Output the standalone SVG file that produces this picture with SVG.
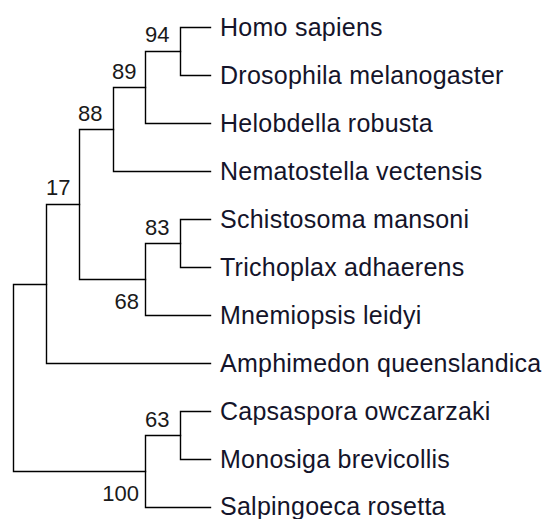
<svg xmlns="http://www.w3.org/2000/svg" width="547" height="519" viewBox="0 0 547 519">
<style>
.br{fill:none;stroke:#000;stroke-width:1.4;stroke-linecap:square}
.leaf{font-family:"Liberation Sans",Arial,sans-serif;font-size:25px;letter-spacing:0.25px;fill:#14142a}
.sup{font-family:"Liberation Sans",Arial,sans-serif;font-size:22px;fill:#1a1a1a}
.end{text-anchor:end}
</style>
<rect width="547" height="519" fill="#fff"/>
<g id="connectors">
<path class="br" d="M210.5,27.5H180.5V75.5H210.5"/>
<path class="br" d="M180.5,51.5H145.5V123.5H210.5"/>
<path class="br" d="M145.5,87.5H113.5V171.5H210.5"/>
<path class="br" d="M210.5,219.5H180.5V267.5H210.5"/>
<path class="br" d="M180.5,243.5H145.5V315.5H210.5"/>
<path class="br" d="M113.5,129.5H79.5V279.5H145.5"/>
<path class="br" d="M79.5,204.5H46.5V363.5H210.5"/>
<path class="br" d="M210.5,411.5H180.5V459.5H210.5"/>
<path class="br" d="M180.5,435.5H145.5V507.5H210.5"/>
<path class="br" d="M46.5,284.5H13.5V471.5H145.5"/>
</g>
<g id="supports">
<text class="sup" x="145" y="42">94</text>
<text class="sup" x="112" y="79">89</text>
<text class="sup" x="78" y="121">88</text>
<text class="sup" x="46" y="195">17</text>
<text class="sup" x="145" y="235">83</text>
<text class="sup end" x="139" y="309">68</text>
<text class="sup" x="145" y="427">63</text>
<text class="sup end" x="139" y="501">100</text>
</g>
<g id="n-homo"><text class="leaf" x="220" y="36">Homo sapiens</text></g>
<g id="n-drosophila"><text class="leaf" x="220" y="84">Drosophila melanogaster</text></g>
<g id="n-helobdella"><text class="leaf" x="220" y="132">Helobdella robusta</text></g>
<g id="n-nematostella"><text class="leaf" x="220" y="180">Nematostella vectensis</text></g>
<g id="n-schistosoma"><text class="leaf" x="220" y="228">Schistosoma mansoni</text></g>
<g id="n-trichoplax"><text class="leaf" x="220" y="276">Trichoplax adhaerens</text></g>
<g id="n-mnemiopsis"><text class="leaf" x="220" y="324">Mnemiopsis leidyi</text></g>
<g id="n-amphimedon"><text class="leaf" x="220" y="372">Amphimedon queenslandica</text></g>
<g id="n-capsaspora"><text class="leaf" x="220" y="420">Capsaspora owczarzaki</text></g>
<g id="n-monosiga"><text class="leaf" x="220" y="468">Monosiga brevicollis</text></g>
<g id="n-salpingoeca"><text class="leaf" x="220" y="515">Salpingoeca rosetta</text></g>
</svg>
